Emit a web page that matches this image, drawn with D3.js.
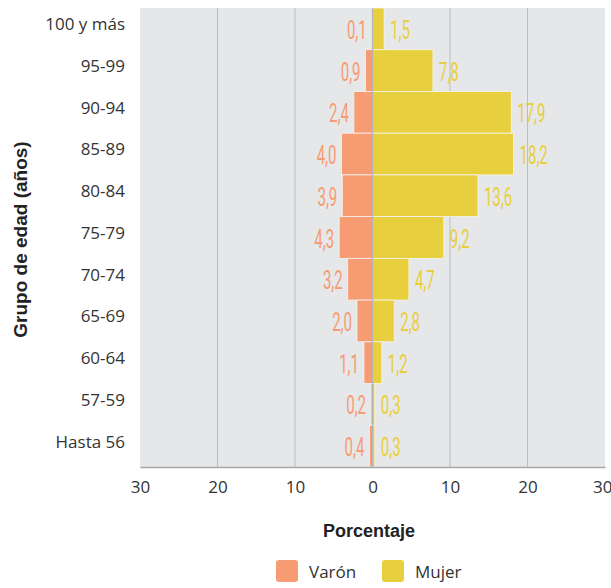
<!DOCTYPE html>
<html>
<head>
<meta charset="utf-8">
<script src="https://cdn.jsdelivr.net/npm/d3@7"></script>
<style>
  body { margin: 0; background: #fff; }
  text { font-family: "Open Sans", Lato, sans-serif; }
</style>
</head>
<body>
<div id="chart"></div>
<script>
const groups = ["100 y más", "95-99", "90-94", "85-89", "80-84", "75-79", "70-74", "65-69", "60-64", "57-59", "Hasta 56"];
const varon = [0.1, 0.9, 2.4, 4.0, 3.9, 4.3, 3.2, 2.0, 1.1, 0.2, 0.4];
const mujer = [1.5, 7.8, 17.9, 18.2, 13.6, 9.2, 4.7, 2.8, 1.2, 0.3, 0.3];
const ticks = [-30, -20, -10, 0, 10, 20, 30];

const width = 611, height = 588;
const mLeft = 140, mRight = 605, mTop = 8, mBottom = 467;
const cVaron = "#f79b73", cMujer = "#e8cf3d";

const svg = d3.select("#chart").append("svg")
  .attr("width", width)
  .attr("height", height);

const x = d3.scaleLinear().domain([-30, 30]).range([mLeft, mRight]);
const y = d3.scaleBand().domain(groups).range([mTop, mBottom]).padding(0);

// panel
svg.append("rect")
  .attr("x", mLeft).attr("y", mTop)
  .attr("width", mRight - mLeft).attr("height", mBottom - mTop)
  .attr("fill", "#e6e7e8");

// grid
svg.selectAll(".grid")
  .data(ticks.filter(t => t !== 0 && Math.abs(t) !== 30))
  .enter().append("line")
  .attr("x1", d => x(d)).attr("x2", d => x(d))
  .attr("y1", mTop).attr("y2", mBottom)
  .attr("stroke", "#bcbdbe").attr("stroke-width", 1);

const rows = groups.map((g, i) => ({ g, v: varon[i], m: mujer[i] }));

svg.selectAll(".bv")
  .data(rows).enter().append("rect")
  .attr("x", d => x(-d.v))
  .attr("y", d => y(d.g))
  .attr("width", d => x(0) - x(-d.v))
  .attr("height", y.bandwidth())
  .attr("fill", cVaron)
  .attr("stroke", "#f4f4f4").attr("stroke-width", 0.8);

svg.selectAll(".bm")
  .data(rows).enter().append("rect")
  .attr("x", x(0))
  .attr("y", d => y(d.g))
  .attr("width", d => x(d.m) - x(0))
  .attr("height", y.bandwidth())
  .attr("fill", cMujer)
  .attr("stroke", "#f4f4f4").attr("stroke-width", 0.8);

// zero line
svg.append("line")
  .attr("x1", x(0)).attr("x2", x(0))
  .attr("y1", mTop).attr("y2", mBottom)
  .attr("stroke", "#b5b5b5").attr("stroke-width", 1.2);

const fmt = v => v.toFixed(1).replace(".", ",");
const squeeze = 0.6;

svg.selectAll(".lv")
  .data(rows).enter().append("text")
  .attr("transform", d => `translate(${x(-d.v) - 5},${y(d.g) + y.bandwidth() / 2 + 1}) scale(${squeeze},1)`)
  .attr("dy", "0.36em")
  .attr("text-anchor", "end")
  .style("font-family", "Roboto, sans-serif")
  .attr("font-size", 25)
  .attr("fill", cVaron)
  .text(d => fmt(d.v));

svg.selectAll(".lm")
  .data(rows).enter().append("text")
  .attr("transform", d => `translate(${x(d.m) + 6},${y(d.g) + y.bandwidth() / 2 + 1}) scale(${squeeze},1)`)
  .attr("dy", "0.36em")
  .style("font-family", "Roboto, sans-serif")
  .attr("font-size", 25)
  .attr("fill", cMujer)
  .text(d => fmt(d.m));

// bottom axis
const xAxis = svg.append("g")
  .attr("transform", `translate(0,${mBottom})`)
  .call(d3.axisBottom(x).tickValues(ticks).tickSize(0).tickPadding(14).tickFormat(d => Math.abs(d)));
xAxis.select(".domain").attr("stroke", "#a7a7a7").attr("stroke-width", 1.5);
xAxis.selectAll("text")
  .style("font-family", "'Open Sans', sans-serif")
  .attr("font-size", 17).attr("fill", "#333");
xAxis.selectAll(".tick").filter(d => d === 30).select("text").attr("text-anchor", "end").attr("x", 7);

// left axis
const yAxis = svg.append("g")
  .attr("transform", `translate(${mLeft},0)`)
  .call(d3.axisLeft(y).tickSize(0).tickPadding(15));
yAxis.select(".domain").remove();
yAxis.selectAll("text")
  .attr("y", -4)
  .style("font-family", "'Open Sans', sans-serif")
  .attr("font-size", 17).attr("fill", "#333");

// titles
svg.append("text")
  .attr("x", 369).attr("y", 537)
  .attr("text-anchor", "middle")
  .style("font-family", "'Liberation Sans', Arial, sans-serif")
  .attr("font-size", 18).attr("font-weight", "bold").attr("fill", "#222")
  .text("Porcentaje");

svg.append("text")
  .attr("transform", `translate(27,${(mTop + mBottom) / 2 + 2}) rotate(-90)`)
  .attr("text-anchor", "middle")
  .style("font-family", "'Liberation Sans', Arial, sans-serif")
  .attr("font-size", 19).attr("font-weight", "bold").attr("fill", "#222")
  .text("Grupo de edad (años)");

// legend
const legend = [{ k: "Varón", c: cVaron, x: 276 }, { k: "Mujer", c: cMujer, x: 382 }];
const lg = svg.selectAll(".lg").data(legend).enter().append("g")
  .attr("transform", d => `translate(${d.x},560)`);
lg.append("rect")
  .attr("width", 22).attr("height", 22).attr("rx", 3)
  .attr("fill", d => d.c);
lg.append("text")
  .attr("x", 33).attr("y", 18)
  .attr("font-size", 17).attr("fill", "#333")
  .text(d => d.k);
</script>
</body>
</html>
